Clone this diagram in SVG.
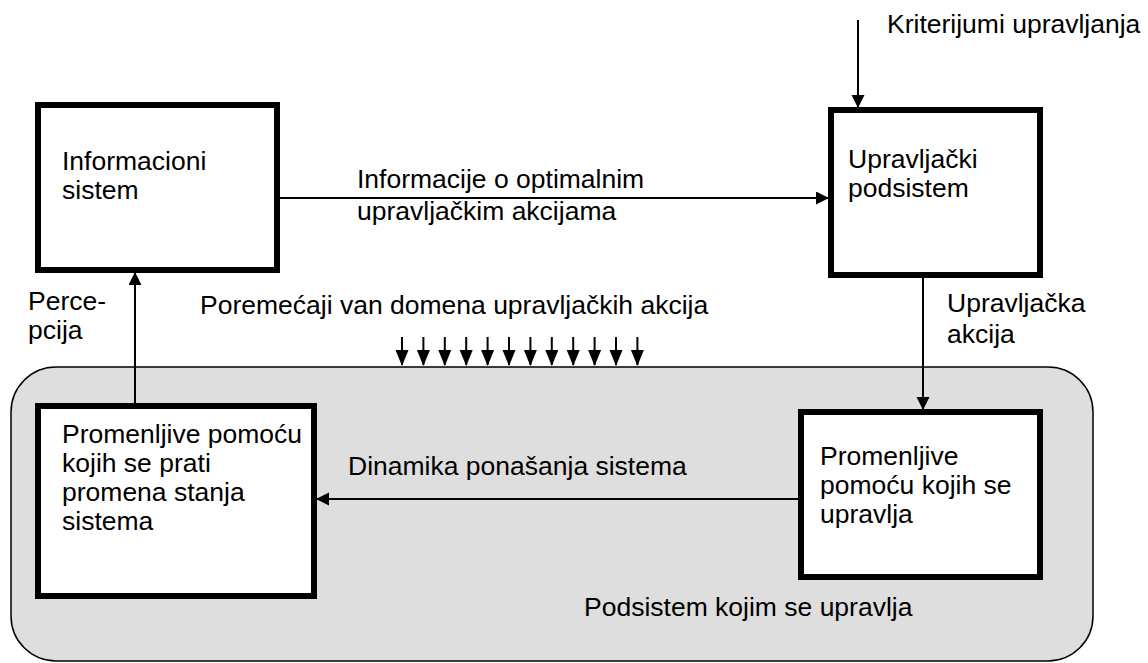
<svg xmlns="http://www.w3.org/2000/svg" width="1148" height="663" viewBox="0 0 1148 663">
  <style>
    text { font-family: "Liberation Sans", Arial, sans-serif; font-size: 26.5px; fill: #000; }
    .box { fill: #fff; stroke: #000; stroke-width: 6; }
    .conn { stroke: #000; stroke-width: 2; fill: none; }
    .dist { stroke: #000; stroke-width: 2; fill: none; }
  </style>
  <defs>
    <marker id="arrow" markerWidth="14" markerHeight="14" refX="12" refY="6.5" orient="auto" markerUnits="userSpaceOnUse">
      <path d="M0,0 L13,6.5 L0,13 Z" fill="#000"/>
    </marker>
    <marker id="arrowDist" markerWidth="17" markerHeight="14" refX="15" refY="6.5" orient="auto" markerUnits="userSpaceOnUse">
      <path d="M0,0 L16,6.5 L0,13 Z" fill="#000"/>
    </marker>
  </defs>

  <!-- controlled subsystem container -->
  <g id="controlled-subsystem">
    <rect x="11" y="367" width="1082" height="294" rx="45" ry="45" fill="#dedede" stroke="#000" stroke-width="1.5"/>
    <text x="584" y="616">Podsistem kojim se upravlja</text>
  </g>

  <!-- connectors -->
  <g id="connectors">
    <line class="conn" x1="280" y1="198" x2="828" y2="198" marker-end="url(#arrow)"/>
    <line class="conn" x1="858" y1="20" x2="858" y2="107" marker-end="url(#arrow)"/>
    <line class="conn" x1="923" y1="278" x2="923" y2="409" marker-end="url(#arrow)"/>
    <line class="conn" x1="798" y1="499" x2="317" y2="499" marker-end="url(#arrow)"/>
    <line class="conn" x1="135" y1="403" x2="135" y2="273" marker-end="url(#arrow)"/>
    <!-- disturbances -->
    <g id="disturbances">
      <line class="dist" x1="402" y1="337" x2="402" y2="365" marker-end="url(#arrowDist)"/>
      <line class="dist" x1="423.4" y1="337" x2="423.4" y2="365" marker-end="url(#arrowDist)"/>
      <line class="dist" x1="444.8" y1="337" x2="444.8" y2="365" marker-end="url(#arrowDist)"/>
      <line class="dist" x1="466.2" y1="337" x2="466.2" y2="365" marker-end="url(#arrowDist)"/>
      <line class="dist" x1="487.6" y1="337" x2="487.6" y2="365" marker-end="url(#arrowDist)"/>
      <line class="dist" x1="509" y1="337" x2="509" y2="365" marker-end="url(#arrowDist)"/>
      <line class="dist" x1="530.4" y1="337" x2="530.4" y2="365" marker-end="url(#arrowDist)"/>
      <line class="dist" x1="551.8" y1="337" x2="551.8" y2="365" marker-end="url(#arrowDist)"/>
      <line class="dist" x1="573.2" y1="337" x2="573.2" y2="365" marker-end="url(#arrowDist)"/>
      <line class="dist" x1="594.6" y1="337" x2="594.6" y2="365" marker-end="url(#arrowDist)"/>
      <line class="dist" x1="616" y1="337" x2="616" y2="365" marker-end="url(#arrowDist)"/>
      <line class="dist" x1="637.4" y1="337" x2="637.4" y2="365" marker-end="url(#arrowDist)"/>
    </g>
    <!-- connector labels -->
    <text x="887" y="33">Kriterijumi upravljanja</text>
    <text x="357" y="188">Informacije o optimalnim</text>
    <text x="357" y="220">upravljačkim akcijama</text>
    <text x="947" y="312">Upravljačka</text>
    <text x="947" y="343">akcija</text>
    <text x="28" y="310">Perce-</text>
    <text x="28" y="339">pcija</text>
    <text x="200" y="314">Poremećaji van domena upravljačkih akcija</text>
    <text x="348" y="475">Dinamika ponašanja sistema</text>
  </g>

  <!-- information system -->
  <g id="information-system">
    <rect class="box" x="38" y="105" width="239" height="165"/>
    <text x="62" y="170">Informacioni</text>
    <text x="62" y="199">sistem</text>
  </g>

  <!-- control subsystem -->
  <g id="control-subsystem">
    <rect class="box" x="831" y="110" width="209" height="165"/>
    <text x="848" y="168">Upravljački</text>
    <text x="848" y="197">podsistem</text>
  </g>

  <!-- monitored variables -->
  <g id="monitored-variables">
    <rect class="box" x="38" y="406" width="276" height="190"/>
    <text x="62" y="443">Promenljive pomoću</text>
    <text x="62" y="472">kojih se prati</text>
    <text x="62" y="501">promena stanja</text>
    <text x="62" y="530">sistema</text>
  </g>

  <!-- control variables -->
  <g id="control-variables">
    <rect class="box" x="801" y="412" width="239" height="165"/>
    <text x="820" y="465">Promenljive</text>
    <text x="820" y="494">pomoću kojih se</text>
    <text x="820" y="523">upravlja</text>
  </g>
</svg>
